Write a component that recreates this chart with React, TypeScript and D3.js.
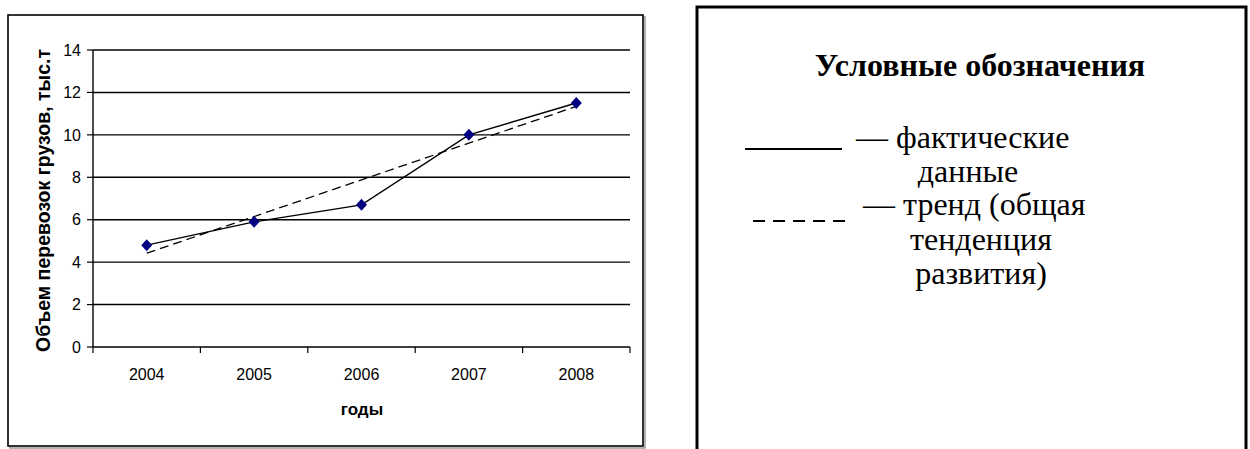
import React from "react";
import * as d3 from "d3";

// Freight volume by year, thousand tonnes
const years = ["2004", "2005", "2006", "2007", "2008"];
const volumes = [4.8, 5.9, 6.7, 10.0, 11.5];
// Linear trend line, value at the first and last year
const trendEnds = [4.42, 11.34];
const yTicks = [0, 2, 4, 6, 8, 10, 12, 14];

const yAxisTitle = "Объем перевозок грузов, тыс.т";
const xAxisTitle = "годы";
const legendTitle = "Условные обозначения";
const legendFact = ["— фактические", "данные"];
const legendTrend = ["— тренд (общая", "тенденция", "развития)"];

const W = 1250;
const H = 449;
const plot = { left: 93, right: 630, top: 50, bottom: 347 };

const SANS = "Liberation Sans, Arial, sans-serif";
const SERIF = "Liberation Serif, Times New Roman, serif";

export default function App() {
  const x = d3.scaleBand<string>().domain(years).range([plot.left, plot.right]).padding(0);
  const cx = (yr: string) => (x(yr) as number) + x.bandwidth() / 2;
  const y = d3.scaleLinear().domain([0, 14]).range([plot.bottom, plot.top]);

  const line = d3
    .line<number>()
    .x((_, i) => cx(years[i]))
    .y((v) => y(v));

  const trendPath = d3
    .line<number>()
    .x((_, i) => cx(i === 0 ? years[0] : years[years.length - 1]))
    .y((v) => y(v))(trendEnds);

  // diamond marker, a little taller than wide
  const mw = 5.5;
  const mh = 6;
  const diamond = `M0,${-mh}L${mw},0L0,${mh}L${-mw},0Z`;

  const boundaries = years.map((yr) => x(yr) as number).concat([plot.right]);

  return (
    <svg
      width={W}
      height={H}
      viewBox={`0 0 ${W} ${H}`}
      style={{ position: "absolute", left: 0, top: 0, display: "block", background: "#fff" }}
    >
      {/* chart frame with a light shadow */}
      <rect x={10} y={17} width={635} height={431} fill="none" stroke="#999" strokeWidth={1.5} />
      <rect x={8} y={15} width={635} height={431} fill="#fff" stroke="#000" strokeWidth={1.6} />

      {/* horizontal gridlines and value ticks */}
      {yTicks.map((t) => (
        <g key={t}>
          <line x1={plot.left} x2={plot.right} y1={y(t)} y2={y(t)} stroke="#000" strokeWidth={1.4} />
          <line x1={plot.left - 6} x2={plot.left} y1={y(t)} y2={y(t)} stroke="#000" strokeWidth={1.2} />
          <text
            x={plot.left - 12}
            y={y(t)}
            dy="0.36em"
            textAnchor="end"
            fontFamily={SANS}
            fontSize={16}
            fill="#000"
          >
            {t}
          </text>
        </g>
      ))}

      {/* axes */}
      <line x1={plot.left} x2={plot.left} y1={plot.top} y2={plot.bottom} stroke="#000" strokeWidth={1.4} />
      {boundaries.map((bx, i) => (
        <line key={i} x1={bx} x2={bx} y1={plot.bottom} y2={plot.bottom + 6} stroke="#000" strokeWidth={1.2} />
      ))}
      {years.map((yr) => (
        <text key={yr} x={cx(yr)} y={380} textAnchor="middle" fontFamily={SANS} fontSize={16} fill="#000">
          {yr}
        </text>
      ))}

      <text x={362} y={415} textAnchor="middle" fontFamily={SANS} fontSize={17} fontWeight="bold" fill="#000">
        {xAxisTitle}
      </text>
      <text
        transform={`translate(50, ${(plot.top + plot.bottom) / 2 + 2}) rotate(-90)`}
        textAnchor="middle"
        fontFamily={SANS}
        fontSize={19.5}
        fontWeight="bold"
        fill="#000"
      >
        {yAxisTitle}
      </text>

      {/* trend */}
      <path d={trendPath || ""} fill="none" stroke="#000" strokeWidth={1.3} strokeDasharray="9,5" />
      {/* actual data */}
      <path d={line(volumes) || ""} fill="none" stroke="#000" strokeWidth={1.4} />
      {volumes.map((v, i) => (
        <path key={i} d={diamond} transform={`translate(${cx(years[i])},${y(v)})`} fill="#000080" />
      ))}

      {/* legend box */}
      <path d={`M697,449 V7 H1246 V449`} fill="none" stroke="#000" strokeWidth={3} />
      <text x={980} y={76} textAnchor="middle" fontFamily={SERIF} fontSize={32} fontWeight="bold" fill="#000">
        {legendTitle}
      </text>

      <line x1={745} x2={842} y1={149} y2={149} stroke="#000" strokeWidth={2.2} />
      <text x={856} y={148} fontFamily={SERIF} fontSize={32} fill="#000">
        {legendFact[0]}
      </text>
      <text x={968} y={182} textAnchor="middle" fontFamily={SERIF} fontSize={32} fill="#000">
        {legendFact[1]}
      </text>

      <line x1={753} x2={849} y1={221} y2={221} stroke="#000" strokeWidth={2} strokeDasharray="12,8" />
      <text x={863} y={215} fontFamily={SERIF} fontSize={32} fill="#000">
        {legendTrend[0]}
      </text>
      <text x={981} y={250} textAnchor="middle" fontFamily={SERIF} fontSize={32} fill="#000">
        {legendTrend[1]}
      </text>
      <text x={981} y={284} textAnchor="middle" fontFamily={SERIF} fontSize={32} fill="#000">
        {legendTrend[2]}
      </text>
    </svg>
  );
}
